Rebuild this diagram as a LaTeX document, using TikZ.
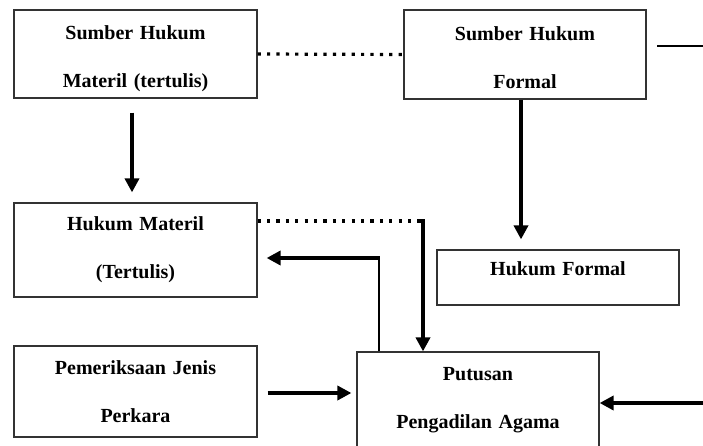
\documentclass[tikz,border=0pt]{standalone}
\usepackage{fontspec}
\setmainfont{Liberation Serif}
\usetikzlibrary{arrows.meta, positioning, calc}

\begin{document}
\begin{tikzpicture}[
  x=1pt, y=-1pt,
  box/.style={rectangle, draw=black!80, line width=1.2pt, fill=white,
              text width=230pt, align=center, inner sep=0pt,
              font=\fontsize{20}{48}\selectfont\bfseries},
  arr/.style={-{Triangle[length=14pt,width=14pt]}, line width=4pt, black},
  dotline/.style={line width=3.2pt, dash pattern=on 3.2pt off 6.2pt, black},
  thinline/.style={line width=1.1pt, black}
]
\useasboundingbox (0,0) rectangle (703,446);

% Main boxes
\node[box, minimum width=243pt, minimum height=88pt, text depth=42pt] (smat) at (135.5,54)
  {Sumber Hukum\\Materil (tertulis)};
\node[box, minimum width=242pt, minimum height=89pt, text depth=42pt] (sfor) at (525,54.5)
  {Sumber Hukum\\Formal};
\node[box, minimum width=243pt, minimum height=94pt] (hmat) at (135.5,250)
  {Hukum Materil\\(Tertulis)};
\node[box, minimum width=242pt, minimum height=55pt, text depth=17pt] (hfor) at (558,277.5)
  {Hukum Formal};
\node[box, minimum width=243pt, minimum height=91pt] (periksa) at (135.5,391.5)
  {Pemeriksaan Jenis\\Perkara};
\node[box, minimum width=242pt, minimum height=96pt] (putusan) at (478,400)
  {Putusan\\Pengadilan Agama};

% Free ends
\coordinate (rout1) at (657,46);
\coordinate (rout2) at (703,46);
\coordinate (bend) at (423,221);
\coordinate (back) at (379,258);
\coordinate (rin) at (703,403);

% Dotted links
\draw[dotline] (smat.east) -- (sfor.west);
\draw[dotline] (hmat.east |- bend) -- (bend);

% Arrows down
\draw[arr, shorten <=14pt, shorten >=10pt] ([xshift=-3.5pt]smat.south) -- ([xshift=-3.5pt]hmat.north);
\draw[arr, shorten >=10pt] ([xshift=-4pt]sfor.south) -- ([xshift=-4pt]sfor.south |- hfor.north);
\draw[arr] ([yshift=1.6pt]bend) -- (bend |- putusan.north);

% Feedback to Hukum Materil
\draw[thinline] (back |- putusan.north) -- (back);
\draw[arr, shorten >=9pt] ([xshift=0.55pt]back) -- (back -| hmat.east);

% Into Putusan
\draw[arr, shorten <=10pt, shorten >=5pt] ([yshift=-1.5pt]periksa.east) -- ([yshift=-1.5pt]periksa.east -| putusan.west);
\draw[arr] (rin) -- (rin -| putusan.east);

% Line on the right
\draw[thinline] (rout1) -- (rout2);

\end{tikzpicture}
\end{document}
